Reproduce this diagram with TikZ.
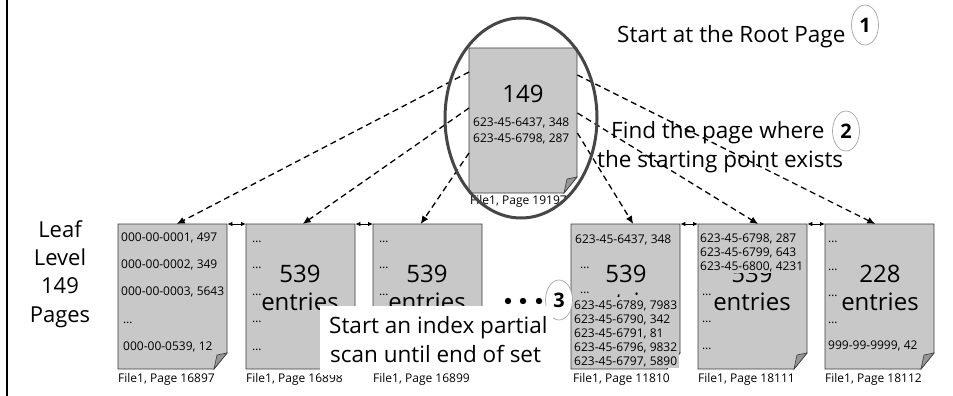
\documentclass[tikz,border=0pt]{standalone}
\usepackage{fontspec}
\setmainfont{Open Sans}
\usetikzlibrary{arrows.meta,calc,shapes.geometric}
\definecolor{pagegray}{RGB}{200,200,200}
\definecolor{edgegray}{RGB}{60,60,60}
\definecolor{foldgray}{RGB}{150,150,150}
\definecolor{ringgray}{RGB}{70,70,70}
\definecolor{badgegray}{RGB}{165,165,165}
\tikzset{
  pagefill/.style={fill=pagegray, draw=edgegray, line width=0.8pt},
  fold/.style={fill=foldgray, draw=edgegray, line width=0.6pt},
  entry/.style={font=\fontsize{12}{13}\selectfont, anchor=base west, inner sep=0},
  count/.style={font=\fontsize{24}{26}\selectfont, anchor=base, inner sep=0},
  caption/.style={font=\fontsize{22.5}{27}\selectfont, anchor=base west, inner sep=0},
  sidecap/.style={font=\fontsize{22}{27}\selectfont, anchor=base, inner sep=0},
  pagelabel/.style={font=\fontsize{12}{13}\selectfont, anchor=base west, inner sep=0},
  badge/.style={ellipse, draw=badgegray, fill=white, line width=0.7pt, minimum width=27pt, minimum height=40pt, inner sep=0, font=\bfseries\fontsize{20}{22}\selectfont},
  treelink/.style={-{Latex[length=8pt,width=7pt]}, line width=1.3pt, dash pattern=on 6pt off 4pt},
  sibling/.style={{Latex[length=5pt,width=4.5pt]}-{Latex[length=5pt,width=4.5pt]}, line width=0.8pt},
  ringstyle/.style={ellipse, draw=ringgray, line width=3pt, minimum width=152pt, minimum height=200pt, inner sep=0},
  pagenode/.style={inner sep=0, minimum width=109pt, minimum height=145pt, anchor=north west},
  coverbox/.style={fill=pagegray, draw=none},
}
\newcommand{\leafpage}[2]{%
  \filldraw[pagefill] (#2,224) -- (#2+109,224) -- (#2+109,353) -- (#2+96,369) -- (#2,369) -- cycle;
  \filldraw[fold] (#2+109,353) -- (#2+96,369) -- (#2+99,355) -- cycle;
  \node[pagenode] (#1) at (#2,224) {};
}
\begin{document}
\begin{tikzpicture}[x=1pt,y=-1pt]
\useasboundingbox (0,0) rectangle (953,396);
% left border
\draw[line width=2.5pt] (7,0) -- (7,396);

% root page
\filldraw[pagefill] (469,48) -- (577,48) -- (577,177) -- (564,193) -- (469,193) -- cycle;
\filldraw[fold] (577,177) -- (564,193) -- (567,179) -- cycle;
\node[inner sep=0, minimum width=108pt, minimum height=145pt, anchor=north west] (root) at (469,48) {};
\node[count] (root-count) at (523,102) {149};
\node[entry] (root-e1) at (473,126) {623-45-6437, 348};
\node[entry] (root-e2) at (473,142) {623-45-6798, 287};
\node[pagelabel] (root-label) at (470,204) {File1, Page 19197};

% leaf pages
\leafpage{p1}{118}
\leafpage{p2}{246}
\leafpage{p3}{373}
\leafpage{p4}{571}
\leafpage{p5}{698}
\leafpage{p6}{825}

% page 1 contents
\node[entry] (p1-a) at (121,241) {000-00-0001, 497};
\node[entry] (p1-b) at (121,268) {000-00-0002, 349};
\node[entry] (p1-c) at (121,295) {000-00-0003, 5643};
\node[entry] (p1-d) at (123,323) {…};
\node[entry] (p1-e) at (123,350) {000-00-0539, 12};

% pages 2 and 3 contents
\foreach \pg/\lx in {p2/246,p3/373}{
  \foreach \yy [count=\k] in {242,268,295,322,350}
    \node[entry] (\pg-d\k) at (\lx+6,\yy) {…};
  \node[count] (\pg-count) at (\lx+54,282) {539};
  \node[count] (\pg-word) at (\lx+54,310) {entries};
}

% page 4 contents
\node[entry] (p4-a) at (575,243) {623-45-6437, 348};
\node[entry] (p4-d1) at (580,268) {…};
\node[entry] (p4-d2) at (580,293) {…};
\node[count] (p4-count) at (626,282) {539};
\node[count] (p4-word) at (626,310) {entries};
\fill[coverbox] (572,297) rectangle (679,368);
\foreach \txt [count=\k] in {623-45-6789{,} 7983, 623-45-6790{,} 342, 623-45-6791{,} 81, 623-45-6796{,} 9832, 623-45-6797{,} 5890}
  \node[entry] (p4-r\k) at (574,295+14*\k) {\txt};

% page 5 contents
\node[count] (p5-count) at (752,282) {539};
\fill[coverbox] (699,229) rectangle (806,273);
\node[entry] (p5-a) at (700,242) {623-45-6798, 287};
\node[entry] (p5-b) at (700,256) {623-45-6799, 643};
\node[entry] (p5-c) at (700,270) {623-45-6800, 4231};
\node[count] (p5-word) at (752,310) {entries};
\foreach \yy [count=\k] in {295,322,349}
  \node[entry] (p5-d\k) at (702,\yy) {…};

% page 6 contents
\foreach \yy [count=\k] in {242,270,296,323}
  \node[entry] (p6-d\k) at (828,\yy) {…};
\node[count] (p6-count) at (880,282) {228};
\node[count] (p6-word) at (880,310) {entries};
\node[entry] (p6-e) at (828,349) {999-99-9999, 42};

% page labels
\node[pagelabel] (p1-label) at (118,382) {File1, Page 16897};
\node[pagelabel] (p2-label) at (246,382) {File1, Page 16898};
\node[pagelabel] (p4-label) at (573,382) {File1, Page 11810};
\node[pagelabel] (p5-label) at (698,382) {File1, Page 18111};
\node[pagelabel] (p6-label) at (825,382) {File1, Page 18112};

% sibling links
\draw[sibling] (p1.north east) -- (p2.north west);
\draw[sibling] (p2.north east) -- (p3.north west);
\draw[sibling] (p4.north east) -- (p5.north west);
\draw[sibling] (p5.north east) -- (p6.north west);

% tree links
\draw[treelink] ($(root.north west)+(0,24)$) -- ($(p1.north)+(4,0)$);
\draw[treelink] ($(root.north west)+(0,60)$) -- ($(p2.north)+(2,0)$);
\draw[treelink] ($(root.north west)+(0,105)$) -- ($(p3.north)+(-7,0)$);
\draw[treelink] ($(root.north east)+(0,85)$) -- ($(p4.north)+(7.5,0)$);
\draw[treelink] ($(root.north east)+(0,65)$) -- ($(p5.north)+(5.5,0)$);
\draw[treelink] ($(root.north east)+(0,27)$) -- ($(p6.north)+(-4.5,0)$);

% ring around root
\node[ringstyle] (ring) at (521,118) {};

% captions
\node[caption] (cap1) at (617,43) {Start at the Root Page};
\node[badge] (b1) at (865,25) {1};
\node[caption] (cap2a) at (611,138) {Find the page where};
\node[caption] (cap2b) at (597,167) {the starting point exists};
\node[badge] (b2) at (846,131) {2};

\node[sidecap] (leaf1) at (60,237) {Leaf};
\node[sidecap] (leaf2) at (60,265) {Level};
\node[sidecap] (leaf3) at (60,293) {149};
\node[sidecap] (leaf4) at (60,322) {Pages};

% ellipsis dots and step 3
\foreach \xx [count=\k] in {508,523,539}
  \fill (\xx,301) circle[radius=3.2pt];
\node[badge] (b3) at (559,300) {3};

% scan box
\fill[white] (320,306) rectangle (553,375);
\node[caption] (cap3a) at (329,333) {Start an index partial};
\node[caption] (cap3b) at (330,362) {scan until end of set};
\node[pagelabel] (p3-label) at (373,382) {File1, Page 16899};
\end{tikzpicture}
\end{document}
